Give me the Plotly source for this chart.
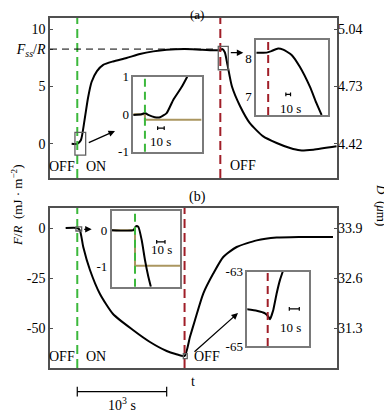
import plotly.graph_objects as go

# time in s, ON switched at t = 0
t_on = 0
t_off_a = 1600
t_off_b = 1200

# panel (a): F/R main curve
a_t = [-63, 0, 40, 80, 120, 160, 220, 290, 400, 550, 700, 850, 1000, 1200, 1400, 1600,
       1620, 1650, 1680, 1730, 1820, 1930, 2080, 2230, 2380, 2490, 2640, 2900]
a_f = [0, 0, 0.3, 2.0, 4.0, 5.4, 6.35, 6.9, 7.2, 7.5, 7.85, 8.08, 8.22, 8.28, 8.22, 8.18,
       8.28, 8.0, 6.9, 5.0, 3.3, 1.8, 0.64, 0.06, -0.38, -0.58, -0.52, -0.23]
f_ss = 8.28

# panel (b): F/R main curve
b_t = [-130, 0, 30, 67, 142, 254, 400, 623, 813, 1000, 1100, 1200,
       1260, 1317, 1409, 1521, 1633, 1783, 2007, 2230, 2491, 2860]
b_f = [0, 0, -1.2, -9.5, -21, -33, -43, -51, -57, -61.5, -63, -64,
       -54.5, -46, -32.8, -22.8, -14.5, -9.5, -6.2, -4.8, -4.5, -4.5]

# insets (time relative to switching, s)
ia1_t = [-18, -5, 0, 5, 15, 23, 33, 43, 56, 64.3]
ia1_f = [-0.02, 0, 0.03, -0.02, -0.08, -0.08, 0.03, 0.38, 0.73, 1.0]
ia1_step_t = [-18, 0, 0, 86]
ia1_step_f = [0, 0, -0.15, -0.15]

ia2_t = [-25, -3.4, 7, 21, 32, 50, 67.5, 89, 103, 114]
ia2_f = [8.15, 8.15, 8.19, 8.26, 8.23, 8.09, 7.78, 7.26, 6.83, 6.52]

ib1_t = [-28, -2, 1.2, 4, 8, 12, 16, 19]
ib1_f = [0, 0, 0.11, 0.09, -0.27, -0.82, -1.27, -1.54]
ib1_step_t = [-28, 0, 0, 54]
ib1_step_f = [0, 0, -0.97, -0.97]

ib2_t = [-21, -11, -2.7, 0.6, 2.3, 5.6, 9, 12.3, 15]
ib2_f = [-64.01, -64.05, -64.12, -64.21, -64.28, -64.03, -63.58, -63.22, -63.0]

# tick labels
a_left_vals = [0, 5, f_ss, 10]
a_left_text = ["0", "5", "<i>F<sub>ss</sub></i>/<i>R</i>", "10"]
a_right_vals = [0, 5, 10]
a_right_text = ["4.42", "4.73", "5.04"]
b_left_vals = [0, -25, -50]
b_left_text = ["0", "-25", "-50"]
b_right_vals = [0, -25, -50]
b_right_text = ["33.9", "32.6", "31.3"]

# the page body adds an 8 px margin, so the figure is drawn 8 px smaller
OFS = 8
W, H = 392 - OFS, 413 - OFS
FONT = "Liberation Serif"
GREEN = "#3cb83c"
RED = "#a01e28"
TAN = "#ab9660"
FRAME = "#505050"
IFRAME = "#7a7a7a"


def px(x):
    return (x - OFS) / W


def py(y):
    return 1 - (y - OFS) / H


fig = go.Figure()
line_k = dict(color="black", width=2, shape="spline", smoothing=0.6)
fig.add_trace(go.Scatter(x=a_t, y=a_f, mode="lines", line=line_k, xaxis="x", yaxis="y"))
fig.add_trace(go.Scatter(x=[], y=[], xaxis="x", yaxis="y2"))
fig.add_trace(go.Scatter(x=b_t, y=b_f, mode="lines", line=line_k, xaxis="x2", yaxis="y3"))
fig.add_trace(go.Scatter(x=[], y=[], xaxis="x2", yaxis="y4"))

tan = dict(color=TAN, width=2)
ik = dict(color="black", width=2, shape="spline", smoothing=0.5)
fig.add_trace(go.Scatter(x=ia1_step_t, y=ia1_step_f, mode="lines", line=tan, xaxis="x3", yaxis="y5"))
fig.add_trace(go.Scatter(x=ia1_t, y=ia1_f, mode="lines", line=ik, xaxis="x3", yaxis="y5"))
fig.add_trace(go.Scatter(x=ia2_t, y=ia2_f, mode="lines", line=ik, xaxis="x4", yaxis="y6"))
fig.add_trace(go.Scatter(x=ib1_step_t, y=ib1_step_f, mode="lines", line=tan, xaxis="x5", yaxis="y7"))
fig.add_trace(go.Scatter(x=ib1_t, y=ib1_f, mode="lines", line=ik, xaxis="x5", yaxis="y7"))
fig.add_trace(go.Scatter(x=ib2_t, y=ib2_f, mode="lines",
                         line=dict(color="black", width=2, shape="spline", smoothing=0.3),
                         xaxis="x6", yaxis="y8"))

tickfont = dict(family=FONT, size=14, color="black")
main_x = dict(range=[-305, 2905], showticklabels=False, ticks="", showgrid=False, automargin=False,
              zeroline=False, showline=True, mirror=True, linecolor=FRAME, linewidth=1.5)
main_y = dict(showgrid=False, zeroline=False, showline=True, mirror=True, linecolor=FRAME,
              linewidth=1.5, ticks="inside", ticklen=3, tickcolor=FRAME, tickmode="array",
              automargin=False, tickfont=tickfont)
ins_x = dict(showticklabels=False, ticks="", showgrid=False, zeroline=False, automargin=False,
             showline=True, mirror=True, linecolor=IFRAME, linewidth=1.5)
ins_y = dict(showgrid=False, zeroline=False, showline=True, mirror=True, linecolor=IFRAME,
             linewidth=1.5, ticks="", tickmode="array", automargin=False,
             tickfont=dict(family=FONT, size=13, color="black"))

dom_ax = [px(50), px(337)]
fig.update_layout(
    template="none",
    width=W, height=H, margin=dict(l=0, r=0, t=0, b=0, autoexpand=False),
    paper_bgcolor="white", plot_bgcolor="white", showlegend=False,
    font=dict(family=FONT, size=14, color="black"),
    xaxis=dict(main_x, domain=dom_ax, anchor="y"),
    yaxis=dict(main_y, domain=[py(178), py(18)], range=[-3, 11], anchor="x",
               tickvals=a_left_vals, ticktext=a_left_text),
    yaxis2=dict(main_y, range=[-3, 11], overlaying="y", side="right", anchor="x",
                tickvals=a_right_vals, ticktext=a_right_text, showline=False),
    xaxis2=dict(main_x, domain=dom_ax, anchor="y3"),
    yaxis3=dict(main_y, domain=[py(368), py(208)], range=[-70, 10], anchor="x2",
                tickvals=b_left_vals, ticktext=b_left_text),
    yaxis4=dict(main_y, range=[-70, 10], overlaying="y3", side="right", anchor="x2",
                tickvals=b_right_vals, ticktext=b_right_text, showline=False),
    xaxis3=dict(ins_x, domain=[px(133.3), px(201.7)], range=[-17.7, 86.3], anchor="y5"),
    yaxis5=dict(ins_y, domain=[py(151.7), py(76.7)], range=[-1, 1], anchor="x3",
                tickvals=[-1, 0, 1], ticktext=["-1", "0", "1"]),
    xaxis4=dict(ins_x, domain=[px(256), px(327.7)], range=[-26, 127], anchor="y6"),
    yaxis6=dict(ins_y, domain=[py(115), py(40)], range=[6.52, 8.48], anchor="x4",
                tickvals=[7, 8], ticktext=["7", "8"]),
    xaxis5=dict(ins_x, domain=[px(111.7), px(180)], range=[-28, 54], anchor="y7"),
    yaxis7=dict(ins_y, domain=[py(286.7), py(210.7)], range=[-1.54, 0.53], anchor="x5",
                tickvals=[-1, 0], ticktext=["-1", "0"]),
    xaxis6=dict(ins_x, domain=[px(247.3), px(309.3)], range=[-20.4, 41.6], anchor="y8"),
    yaxis8=dict(ins_y, domain=[py(346), py(271.7)], range=[-65, -63], anchor="x6",
                tickvals=[-65, -63], ticktext=["-65", "-63"]),
)


def vline(xref, yref, x, color, dash="9px,5px", width=2):
    fig.add_shape(type="line", xref=xref, yref=yref + " domain", x0=x, x1=x, y0=0, y1=1,
                  line=dict(color=color, width=width, dash=dash), layer="above")


vline("x", "y", t_on, GREEN)
vline("x", "y", t_off_a, RED)
vline("x2", "y3", t_on, GREEN)
vline("x2", "y3", t_off_b, RED)
vline("x3", "y5", 0, GREEN, "8px,5px")
vline("x4", "y6", 0, RED, "8px,5px")
vline("x5", "y7", 0, GREEN, "8px,5px")
vline("x6", "y8", 0, RED, "8px,5px")

# F_ss/R dashed level
fig.add_shape(type="line", xref="x", yref="y", x0=-305, x1=1577, y0=f_ss, y1=f_ss,
              line=dict(color="black", width=1, dash="7px,5px"))

# zoom boxes on main curves
box = dict(color="#606060", width=1.3)
fig.add_shape(type="rect", xref="x", yref="y", x0=-26, x1=94, y0=-1, y1=1, line=box)
fig.add_shape(type="rect", xref="x", yref="y", x0=1577, x1=1689, y0=6.47, y1=8.51, line=box)
fig.add_shape(type="rect", xref="x2", yref="y3", x0=-15, x1=49, y0=-1.5, y1=0.6, line=box)
fig.add_shape(type="rect", xref="x2", yref="y3", x0=1186, x1=1230, y0=-65.3, y1=-62.8, line=box)


def scalebar(xref, yref, x0, x1, y, cap):
    ln = dict(color="black", width=1.2)
    fig.add_shape(type="line", xref=xref, yref=yref, x0=x0, x1=x1, y0=y, y1=y, line=ln)
    fig.add_shape(type="line", xref=xref, yref=yref, x0=x0, x1=x0, y0=y - cap, y1=y + cap, line=ln)
    fig.add_shape(type="line", xref=xref, yref=yref, x0=x1, x1=x1, y0=y - cap, y1=y + cap, line=ln)


scalebar("x3", "y5", 19.3, 29.3, -0.37, 0.05)
scalebar("x4", "y6", 37.7, 47.7, 7.06, 0.05)
scalebar("x5", "y7", 26, 36, -0.32, 0.05)
scalebar("x6", "y8", 21.6, 31.6, -64.0, 0.05)
scalebar("x2", "paper", 0, 1000, py(391.7), 0.012)


def label(x, y, text, size=14, xref="paper", yref="paper", **kw):
    fig.add_annotation(x=x, y=y, xref=xref, yref=yref, text=text, showarrow=False,
                       xanchor="center", yanchor="middle",
                       font=dict(size=size, family=FONT, color="black"), **kw)


label(24.3, -0.74, "10 s", 13, "x3", "y5")
label(47.7, 6.68, "10 s", 13, "x4", "y6")
label(32, -0.53, "10 s", 13, "x5", "y7")
label(23, -64.5, "10 s", 13, "x6", "y8")
label(500, py(404), "10<sup>3</sup> s", 14, "x2")

label(px(197), py(15), "(a)", 13)
label(px(197), py(197), "(b)")
label(px(193), py(381), "t")
for yy in (166, 356.5):
    label(px(62), py(yy), "OFF")
    label(px(96), py(yy), "ON")
label(px(243), py(165), "OFF")
label(px(207), py(356), "OFF")

label(px(17), py(205), "<i>F</i>/<i>R</i>  (mJ · m<sup>−2</sup>)", 13, textangle=-90)
label(px(382), py(205), "<i>D</i>  (<i>μ</i>m)", 13, textangle=90)


def arrow(x_head, y_head, x_tail, y_tail):
    fig.add_annotation(x=px(x_head), y=py(y_head), xref="paper", yref="paper", text="",
                       showarrow=True, ax=x_tail - x_head, ay=y_tail - y_head,
                       arrowhead=2, arrowsize=1, arrowwidth=1.3, arrowcolor="black")


arrow(115, 131, 87.3, 143.3)
arrow(243.3, 52.7, 229.3, 52.7)
arrow(91.7, 229.3, 82.7, 229.3)
arrow(238, 313, 193, 353)

fig.write_html("out.html")
